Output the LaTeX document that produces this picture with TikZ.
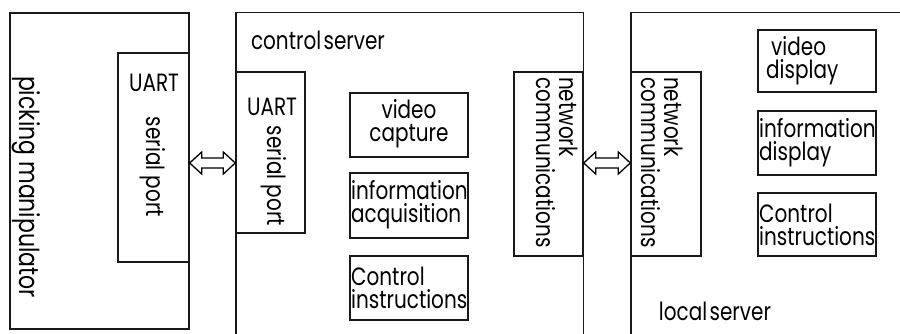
\documentclass[tikz,border=0pt]{standalone}
\usepackage{fontspec}
\setmainfont{Poppins}[FakeStretch=0.8]
\usetikzlibrary{calc}
\newcommand{\hollowdblarrow}[2]{%
  \draw[arrowline] (#1) -- ($(#1)+(12,-11)$) -- ($(#1)+(12,-5)$) -- ($(#2)+(-12,-5)$) -- ($(#2)+(-12,-11)$) -- (#2) -- ($(#2)+(-12,11)$) -- ($(#2)+(-12,5)$) -- ($(#1)+(12,5)$) -- ($(#1)+(12,11)$) -- cycle;}
\begin{document}
\begin{tikzpicture}[x=1pt,y=-1pt,
  box/.style={draw=black!90, line width=1.4pt, inner sep=0pt},
  frame/.style={draw=black!90, line width=1.4pt},
  lbl/.style={inner sep=0pt, font=\fontsize{25}{23}\selectfont},
  arrowline/.style={draw=black, line width=1.3pt, fill=white, line join=miter}]
\useasboundingbox (0,0) rectangle (900,334);
\clip (0,0) rectangle (900,334);
% picking manipulator
\node[box, minimum width=179, minimum height=316] (pm) at (99.5,171) {};
\node[box, minimum width=71, minimum height=209] (uart1) at (153.5,157.5) {};
\node[lbl, rotate=-90, font=\fontsize{27.5}{25}\selectfont] (pmtext) at (26,187) {picking\hspace{6pt}manipulator};
\node[lbl] (uart1a) at (154,83) {UART};
\node[lbl, rotate=-90] (uart1b) at (153,167) {serial port};
% control server
\node[minimum width=347, minimum height=340, inner sep=0pt] (cs) at (409.5,183) {};
\draw[frame] (cs.south west) -- (cs.north west) -- (cs.north east) -- (cs.south east);
\node[lbl] (cstext) at (318,40) {control\hspace{-3pt} server};
\node[box, minimum width=69, minimum height=161] (uart2) at (270.5,152.5) {};
\node[lbl] (uart2a) at (272,107) {UART};
\node[lbl, rotate=-90] (uart2b) at (274,176) {serial port};
\node[box, minimum width=118, minimum height=64] (vc) at (409,125) {};
\node[lbl, align=center] (vct) at (409,124) {video\\capture};
\node[box, minimum width=118, minimum height=65] (ia) at (409,205.5) {};
\node[lbl, align=left, anchor=west] (iat) at (351,205) {information\\acquisition};
\node[box, minimum width=118, minimum height=64] (ci1) at (409,288) {};
\node[lbl, align=left, anchor=west] (ci1t) at (351,288) {Control\\instructions};
\node[box, minimum width=69, minimum height=184] (nc1) at (548.5,164) {};
\node[lbl, rotate=-90, align=left, anchor=north west] (nc1t) at (578,77) {network\\communications};
% local server
\node[minimum width=290, minimum height=340, inner sep=0pt] (ls) at (776,183) {};
\draw[frame] (ls.south west) -- (ls.north west) -- (ls.north east);
\node[box, minimum width=70, minimum height=184] (nc2) at (666,164) {};
\node[lbl, rotate=-90, align=left, anchor=north west] (nc2t) at (683,77) {network\\communications};
\node[box, minimum width=118, minimum height=62] (vd) at (817,61) {};
\node[lbl, align=left, anchor=west] (vdt) at (766,61) {\hspace{5pt}video\\display};
\node[box, minimum width=118, minimum height=64] (id) at (817,143) {};
\node[lbl, align=left, anchor=west] (idt) at (759,143) {information\\display};
\node[box, minimum width=118, minimum height=63] (ci2) at (817,224.5) {};
\node[lbl, align=left, anchor=west] (ci2t) at (759,224.5) {Control\\instructions};
\node[lbl] (lstext) at (715,311) {local\hspace{-3pt} server};
% arrows
\coordinate (arrY) at (0,163);
\coordinate (a1l) at (uart1.east |- arrY);
\coordinate (a1r) at (uart2.west |- arrY);
\coordinate (a2l) at (nc1.east |- arrY);
\coordinate (a2r) at (nc2.west |- arrY);
\hollowdblarrow{a1l}{a1r}
\hollowdblarrow{a2l}{a2r}
\end{tikzpicture}
\end{document}
